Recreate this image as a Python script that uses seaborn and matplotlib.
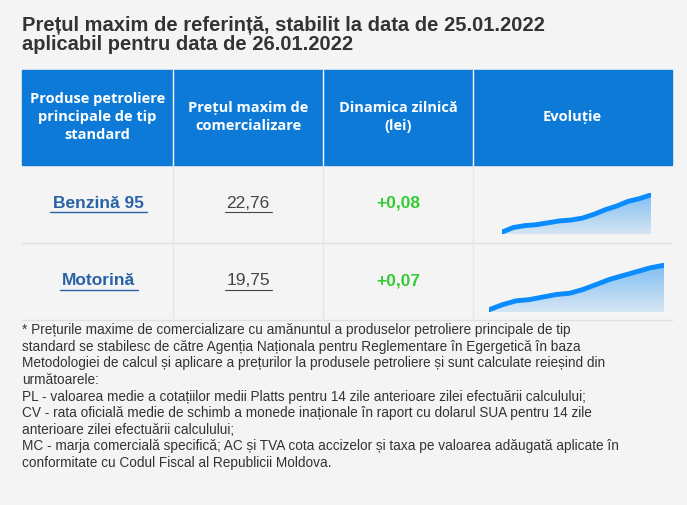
import numpy as np
import pandas as pd
import seaborn as sns
import matplotlib.pyplot as plt

sns.set_theme(style="white")
plt.rcParams['font.family'] = ['Open Sans', 'DejaVu Sans']

products = ["Benzină 95", "Motorină"]
prices = ["22,76", "19,75"]
changes = ["+0,08", "+0,07"]
headers = ["Produse petroliere\nprincipale de tip\nstandard", "Prețul maxim de\ncomercializare",
           "Dinamica zilnică\n(lei)", "Evoluție"]
benzina_trend = [22.28, 22.33, 22.35, 22.36, 22.38, 22.40, 22.41, 22.43, 22.47, 22.52,
                 22.56, 22.61, 22.64, 22.68]
motorina_trend = [19.25, 19.29, 19.32, 19.33, 19.35, 19.37, 19.38, 19.41, 19.45, 19.49,
                  19.52, 19.55, 19.58, 19.60]

bg = "#f4f4f4"
arial = ['Liberation Sans', 'DejaVu Sans']
fig = plt.figure(figsize=(6.87, 5.05), dpi=100, facecolor=bg)
ax = fig.add_axes([0, 0, 1, 1])
ax.set_xlim(0, 687)
ax.set_ylim(505, 0)
ax.axis('off')

# title
ax.text(22, 35, "Prețul maxim de referință, stabilit la data de 25.01.2022\naplicabil pentru data de 26.01.2022",
        fontsize=14.5, fontweight='bold', color="#333333", va='center', linespacing=1.05,
        family=arial)

# header
ax.add_patch(plt.Rectangle((22, 70), 650, 95, color="#0c7ad6"))
cols = [22, 173, 323, 473, 672]
for x in cols[1:-1]:
    ax.plot([x, x], [70, 165], color="white", lw=1)
for i, h in enumerate(headers):
    ax.text((cols[i] + cols[i + 1]) / 2, 117, h, color="white", fontsize=10.5,
            fontweight='bold', ha='center', va='center', linespacing=1.4)

# rows
rows = [(165, 243), (243, 320)]
for (y0, y1) in rows:
    ax.plot([22, 672], [y1, y1], color="#e0e0e0", lw=1)
for x in cols[1:-1]:
    ax.plot([x, x], [165, 320], color="#e6e6e6", lw=1)

for i, (y0, y1) in enumerate(rows):
    yc = (y0 + y1) / 2 - 1
    ax.text(98, yc, products[i], color="#2a62a8", fontsize=12.5, fontweight='bold',
            ha='center', va='center', family=arial)
    ax.text(248, yc, prices[i], color="#444444", fontsize=12.5, ha='center', va='center',
            family=arial)
    ax.text(398, yc, changes[i], color="#33cc33", fontsize=12.5, fontweight='bold',
            ha='center', va='center', family=arial)
# underlines
for i, (x0, x1) in enumerate([(50, 147), (60, 138)]):
    y = 212 if i == 0 else 290
    ax.plot([x0, x1], [y, y], color="#2a62a8", lw=1)
    ax.plot([225, 272], [y, y], color="#444444", lw=0.8)

# sparklines
sparks = [(benzina_trend, 502, 651, 193, 234), (motorina_trend, 489, 664, 263, 312)]
for vals, x0, x1, yt, yb in sparks:
    sax = fig.add_axes([x0 / 687, 1 - yb / 505, (x1 - x0) / 687, (yb - yt) / 505])
    df = pd.DataFrame({"x": np.arange(len(vals)), "y": vals})
    lo, hi = min(vals), max(vals)
    ymin, ymax = lo - (hi - lo) * 0.05, hi + (hi - lo) * 0.05
    grad = np.linspace(1, 0, 100).reshape(-1, 1)
    sax.imshow(grad, extent=[0, len(vals) - 1, ymin, hi], aspect='auto',
               cmap=sns.light_palette("#7fbff2", as_cmap=True), vmin=-0.3, vmax=1, zorder=0)
    ext_x = np.concatenate([[-0.5], df.x, [len(vals) - 0.5]])
    ext_y = np.concatenate([[ymin], df.y, [ymin]])
    sax.fill_between(ext_x, ext_y, ymax + 1, color=bg, zorder=1, lw=0.5, edgecolor=bg)
    sns.lineplot(data=df, x="x", y="y", ax=sax, color="#0a8cff", lw=3.5, zorder=2)
    sax.set_xlim(0, len(vals) - 1)
    sax.set_ylim(ymin, ymax)
    sax.axis('off')

foot = ("* Prețurile maxime de comercializare cu amănuntul a produselor petroliere principale de tip\n"
        "standard se stabilesc de către Agenția Naționala pentru Reglementare în Egergetică în baza\n"
        "Metodologiei de calcul și aplicare a prețurilor la produsele petroliere și sunt calculate reieșind din\n"
        "următoarele:\n"
        "PL - valoarea medie a cotațiilor medii Platts pentru 14 zile anterioare zilei efectuării calculului;\n"
        "CV - rata oficială medie de schimb a monede inaționale în raport cu dolarul SUA pentru 14 zile\n"
        "anterioare zilei efectuării calculului;\n"
        "MC - marja comercială specifică; AC și TVA cota accizelor și taxa pe valoarea adăugată aplicate în\n"
        "conformitate cu Codul Fiscal al Republicii Moldova.")
ax.text(22, 323, foot, fontsize=9.8, color="#333333", va='top', linespacing=1.24,
        family=arial)

fig.savefig("out.png", dpi=100, facecolor=bg)
